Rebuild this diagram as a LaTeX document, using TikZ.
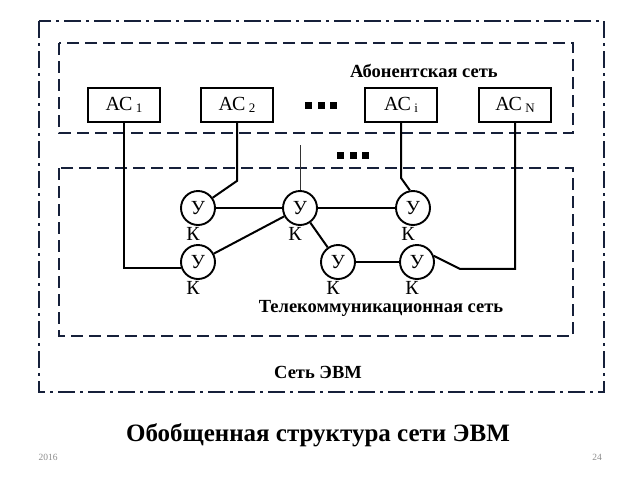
\documentclass[tikz,border=0pt]{standalone}
\usepackage{fontspec}
\setmainfont{Liberation Serif}
\usetikzlibrary{positioning}
\definecolor{netnavy}{HTML}{16203A}
\newcommand{\acsub}[1]{\,\raisebox{-1.5pt}{\fontsize{13}{13}\selectfont #1}}
\tikzset{
  acbox/.style={draw, line width=1.8pt, minimum width=72pt, minimum height=34pt, inner sep=0pt, font=\fontsize{20}{20}\selectfont},
  ukcircle/.style={draw, circle, line width=1.9pt, minimum size=34pt, inner sep=0pt, font=\fontsize{20}{20}\selectfont},
  uklabel/.style={inner sep=0pt, font=\fontsize{20}{20}\selectfont, xshift=-5pt, yshift=-1pt},
  link/.style={line width=2pt},
  netframe/.style={netnavy, line width=2.9pt, dash pattern=on 12pt off 6pt},
  evmframe/.style={netnavy, line width=2.9pt, dash pattern=on 17pt off 5pt on 3pt off 5pt},
  caption/.style={font=\bfseries\fontsize{18.5}{18.5}\selectfont}
}
\begin{document}
\begin{tikzpicture}[x=1pt, y=-1pt]
  \useasboundingbox (0,0) rectangle (640,480);
  % frames
  \draw[evmframe] (39,21) rectangle (604,392);
  \draw[netframe] (59,43) rectangle (573,133);
  \draw[netframe] (59,168) rectangle (573,336);
  % subscriber stations
  \node[acbox] (ac1) at (124,105) {АС\acsub{1}};
  \node[acbox] (ac2) at (237,105) {АС\acsub{2}};
  \node[acbox] (aci) at (401,105) {АС\acsub{i}};
  \node[acbox] (acn) at (515,105) {АС\acsub{N}};
  \foreach \i in {0,1,2} {
    \fill (305+\i*12.5,102) rectangle ++(7,7);
    \fill (337+\i*12.5,152) rectangle ++(7,7);
  }
  % switching nodes
  \node[ukcircle, label={[uklabel]below:К}] (u1) at (198,208) {У};
  \node[ukcircle, label={[uklabel]below:К}] (u2) at (300,208) {У};
  \node[ukcircle, label={[uklabel]below:К}] (u3) at (413,208) {У};
  \node[ukcircle, label={[uklabel]below:К}] (u4) at (198,262) {У};
  \node[ukcircle, label={[uklabel]below:К}] (u5) at (338,262) {У};
  \node[ukcircle, label={[uklabel]below:К}] (u6) at (417,262) {У};
  % links
  \draw[link] (ac1.south) |- (u4.200);
  \draw[link] (ac2.south) -- ++(0,58) -- (u1.35);
  \draw[link] (aci.south) -- ++(0,55) -- (u3.100);
  \draw[link] (acn.south) -- ++(0,146) -- ++(-55,0) -- (u6.20);
  \coordinate (stub) at (300,145);
  \draw[line width=0.8pt, black!80] (stub) -- (u2.north);
  \draw[link] (u1) -- (u2);
  \draw[link] (u2) -- (u3);
  \draw[link] (u4) -- (u2);
  \draw[link] (u2) -- (u5);
  \draw[link] (u5) -- (u6);
  % captions
  \node[caption] (abon) at (424,71) {Абонентская сеть};
  \node[caption] (tele) at (381,308) {Телекоммуникационная сеть};
  \node[caption] (evm) at (318,372) {Сеть ЭВМ};
  \node[font=\bfseries\fontsize{25}{25}\selectfont] (title) at (318,435) {Обобщенная структура сети ЭВМ};
  \node[font=\fontsize{9.5}{9.5}\selectfont, text=black!45] (year) at (48,457) {2016};
  \node[font=\fontsize{9.5}{9.5}\selectfont, text=black!45] (page) at (597,457) {24};
\end{tikzpicture}
\end{document}
